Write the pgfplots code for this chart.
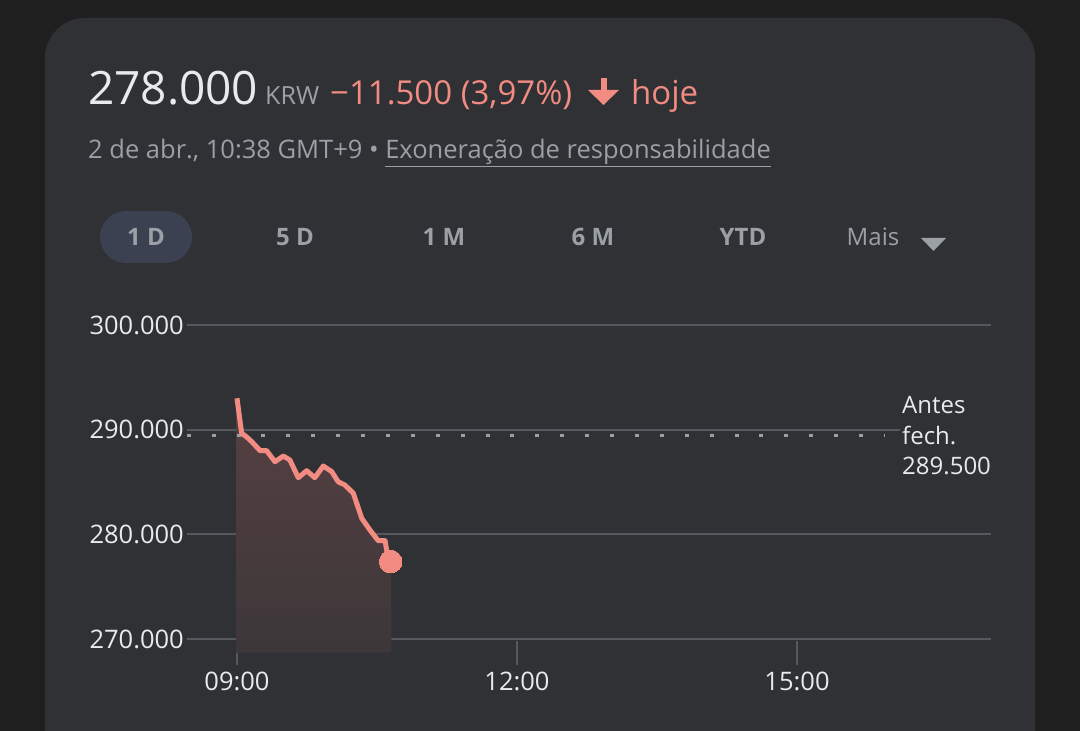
\documentclass[border=0pt]{standalone}
\usepackage{pgfplots}
\pgfplotsset{compat=1.18}
\usepackage{fontspec}
\setmainfont{Open Sans}
\definecolor{outerbg}{HTML}{1F1F1F}
\definecolor{card}{HTML}{303134}
\definecolor{gridc}{HTML}{55585D}
\definecolor{txt}{HTML}{E8EAED}
\definecolor{greyt}{HTML}{9AA0A6}
\definecolor{salmon}{HTML}{F28B82}
\definecolor{pill}{HTML}{3C4152}
\definecolor{filltop}{HTML}{574042}
\definecolor{fillbot}{HTML}{3C3739}
\begin{document}
\begin{tikzpicture}[x=1pt,y=1pt]
\useasboundingbox (0,0) rectangle (1080,731);
\fill[outerbg] (0,0) rectangle (1080,731);
\fill[card, rounded corners=40pt] (45,-80) rectangle (1035,713);
% header
\node[anchor=base west, inner sep=0, text=txt, font=\fontsize{46}{52}\selectfont] at (88,626) {278.000};
\node[anchor=base west, inner sep=0, text=greyt, font=\fontsize{25}{30}\selectfont] at (265,626) {KRW};
\node[anchor=base west, inner sep=0, text=salmon, font=\fontsize{33}{40}\selectfont] at (330,626) {−11.500 (3,97\%)};
\fill[salmon] (600.5,653) rectangle (606.5,636) -- cycle;
\fill[salmon] (588,641) -- (619,641) -- (603.5,626) -- cycle;
\node[anchor=base west, inner sep=0, text=salmon, font=\fontsize{33}{40}\selectfont] at (631,626) {hoje};
% subtitle
\node[anchor=base west, inner sep=0, text=greyt, font=\fontsize{25.5}{30}\selectfont] at (88,572) {2 de abr., 10:38 GMT+9 • \underline{Exoneração de responsabilidade}};
% tabs
\fill[pill, rounded corners=26pt] (100,468) rectangle (192,520);
\begin{scope}[every node/.style={text=greyt, font=\fontsize{24}{28}\selectfont\bfseries, inner sep=0}]
\node at (146,494) {1 D};
\node at (295,494) {5 D};
\node at (444,494) {1 M};
\node at (593,494) {6 M};
\node at (743,494) {YTD};
\node[font=\fontsize{24}{28}\selectfont] at (873,494) {Mais};
\end{scope}
\fill[greyt] (921,493) -- (946,493) -- (933.5,480) -- cycle;
\begin{axis}[
  at={(187pt,78.4pt)}, anchor=south west,
  scale only axis, width=804pt, height=327.6pt,
  xmin=-32.14, xmax=484.7, ymin=268700, ymax=300000,
  scaled y ticks=false, scaled x ticks=false,
  axis line style={draw=none},
  ymajorgrids, grid style={gridc, line width=2pt},
  ytick={270000,280000,290000,300000},
  yticklabels={270.000,280.000,290.000,300.000},
  xtick={0,180,360}, xticklabels={09:00,12:00,15:00},
  tick pos=left,
  tick align=center, major tick length=24pt,
  ytick style={draw=none},
  xtick style={gridc, line width=2pt},
  /pgf/number format/assume math mode=true,
  tick label style={text=txt, font=\fontsize{25.5}{30}\selectfont},
  yticklabel style={anchor=east, inner sep=0pt, xshift=9pt},
  xticklabel style={anchor=north, inner sep=0pt, yshift=-7pt},
]
\addplot[draw=none, top color=filltop, bottom color=fillbot] coordinates {
(-0.5,268700) (-0.5,293000) (0,293000) (3,289650) (6,289330) (9.5,288850) (14.8,288000) (19,288000)
(24.4,286940) (29.8,287480) (34,287100) (39.4,285410) (44.8,286080) (50,285410)
(55.5,286530) (60.9,285990) (65,285030) (69.4,284710) (74.8,283920) (80.2,281530)
(85.5,280410) (90.8,279390) (95.2,279390) (96.4,278280) (98.8,277400) (99.3,277400) (99.3,268700)} -- cycle;
\addplot[greyt, line width=3pt, dash pattern=on 4pt off 20.9pt] coordinates {(-32.3,289400) (416,289400)};
\addplot[salmon, line width=5pt, line join=round] coordinates {
(0,293000) (3,289650) (6,289330) (9.5,288850) (14.8,288000) (19,288000)
(24.4,286940) (29.8,287480) (34,287100) (39.4,285410) (44.8,286080) (50,285410)
(55.5,286530) (60.9,285990) (65,285030) (69.4,284710) (74.8,283920) (80.2,281530)
(85.5,280410) (90.8,279390) (95.2,279390) (96.4,278280) (98.8,277400)};
\addplot[salmon, only marks, mark=*, mark size=11.3pt, mark options={fill=salmon, draw=salmon, line width=0pt}] coordinates {(98.8,277400)};
\end{axis}
\node[anchor=west, align=left, fill=card, inner sep=2pt, text=txt, font=\fontsize{24}{30.5}\selectfont] at (900,295) {Antes\\fech.\\289.500};
\end{tikzpicture}
\end{document}
